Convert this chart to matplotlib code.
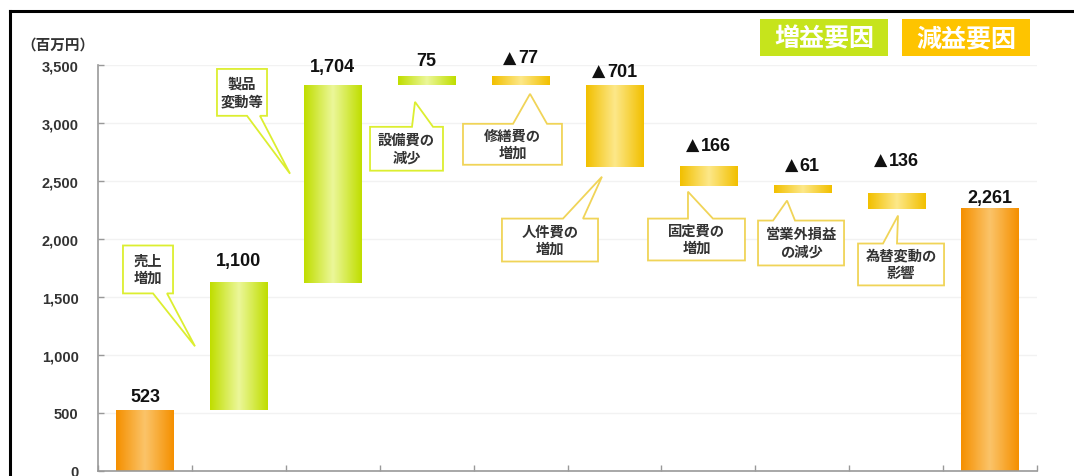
import matplotlib
matplotlib.use('Agg')
import matplotlib.pyplot as plt
import numpy as np
from matplotlib.colors import LinearSegmentedColormap
from matplotlib.patches import Polygon, Rectangle
from matplotlib.lines import Line2D

plt.rcParams['font.family'] = ['Liberation Sans', 'DejaVu Sans', 'Noto Sans CJK JP']
plt.rcParams['font.weight'] = 'bold'

# ---- data ----
categories = ['前期', '売上増加', '製品変動等', '設備費の減少', '修繕費の増加',
              '人件費の増加', '固定費の増加', '営業外損益の減少', '為替変動の影響', '当期']
values = [523, 1100, 1704, 75, -77, -701, -166, -61, -136, 2261]
kinds = ['total', 'inc', 'inc', 'inc', 'dec', 'dec', 'dec', 'dec', 'dec', 'total']
yticks = [0, 500, 1000, 1500, 2000, 2500, 3000, 3500]
ytick_labels = ['0', '500', '1,000', '1,500', '2,000', '2,500', '3,000', '3,500']
label_offsets = [6.5, 13, 10, 8.5, 10, 7, 12, 11.5, 20, 5]  # points above bar

callout_texts = ['売上\n増加', '製品\n変動等', '設備費の\n減少', '修繕費の\n増加',
                 '人件費の\n増加', '固定費の\n増加', '営業外損益\nの減少', '為替変動の\n影響']
callout_kinds = ['inc', 'inc', 'inc', 'dec', 'dec', 'dec', 'dec', 'dec']
# box (x0, x1, y0, y1), tail side, tail base (b0, b1), tip (x, y)  -- data coords
callout_geom = [
    ((-0.234, 0.299, 1531, 1944), 'bottom', (0.086, 0.235), (0.533, 1075)),
    ((0.767, 1.300, 3062, 3466), 'bottom', (1.087, 1.225), (1.545, 2563)),
    ((2.397, 3.174, 2589, 2967), 'top', (2.844, 3.068), (2.876, 3182)),
    ((3.387, 4.441, 2640, 2993), 'top', (3.920, 4.282), (4.101, 3251)),
    ((3.802, 4.825, 1806, 2176), 'top', (4.452, 4.665), (4.867, 2537)),
    ((5.357, 6.390, 1815, 2176), 'top', (5.783, 6.049), (5.783, 2408)),
    ((6.529, 7.445, 1772, 2159), 'top', (6.689, 6.923), (6.838, 2331)),
    ((7.594, 8.510, 1600, 1961), 'top', (7.860, 8.009), (8.020, 2202)),
]

# ---- styles ----
edge_col = {'inc': '#c0de00', 'dec': '#f2c000', 'total': '#f59000'}
mid_col = {'inc': '#ecf79a', 'dec': '#fde88a', 'total': '#fbc46a'}
box_edge = {'inc': '#dcee30', 'dec': '#f0d458'}

fig = plt.figure(figsize=(10.74, 4.77), dpi=100)
ax = fig.add_axes([98 / 1074, 5 / 477, 939 / 1074, 406 / 477])
renderer = fig.canvas.get_renderer()
px2pt = 72 / fig.dpi

bar_w = 0.61
running = 0
grad = np.linspace(0, 1, 64).reshape(1, -1)
for i, (v, k) in enumerate(zip(values, kinds)):
    if k == 'total':
        bottom, top = 0, v
        running = v
    else:
        start = running
        running = running + v
        bottom, top = min(start, running), max(start, running)
    cmap = LinearSegmentedColormap.from_list(
        k, [edge_col[k], mid_col[k], edge_col[k]])
    ax.imshow(grad, extent=[i - bar_w / 2, i + bar_w / 2, bottom, top],
              cmap=cmap, aspect='auto', zorder=2, interpolation='bilinear')
    off = label_offsets[i]
    num = f'{abs(v):,}'
    t_num = ax.annotate(num, (i, top), xytext=(0, off), textcoords='offset points',
                        ha='left', va='baseline', fontsize=13, fontweight='bold',
                        color='#111111', zorder=5, family='Liberation Sans')
    w_num = t_num.get_window_extent(renderer).width * px2pt
    if v < 0:
        t_tri = ax.annotate('▲', (i, top), xytext=(0, off), textcoords='offset points',
                            ha='left', va='baseline', fontsize=12.5, fontweight='bold',
                            color='#111111', zorder=5, family='DejaVu Sans')
        w_tri = t_tri.get_window_extent(renderer).width * px2pt
        gap = 1.0
        total = w_tri + gap + w_num
        t_tri.xyann = (-total / 2, off)
        t_num.xyann = (-total / 2 + w_tri + gap, off)
    else:
        t_num.xyann = (-w_num / 2, off)

# callouts
for txt, k, (box, side, base, tip) in zip(callout_texts, callout_kinds, callout_geom):
    x0, x1, y0, y1 = box
    b0, b1 = base
    if side == 'bottom':
        pts = [(x0, y1), (x1, y1), (x1, y0), (b1, y0), tip, (b0, y0), (x0, y0)]
    else:
        pts = [(x0, y0), (x0, y1), (b0, y1), tip, (b1, y1), (x1, y1), (x1, y0)]
    ax.add_patch(Polygon(pts, closed=True, facecolor='white', edgecolor=box_edge[k],
                         lw=1.3, zorder=3))
    ax.text((x0 + x1) / 2, (y0 + y1) / 2, txt, ha='center', va='center',
            fontsize=10.3, fontweight='bold', color='#333333', linespacing=1.3,
            zorder=4, family=['Noto Sans CJK JP', 'DejaVu Sans'])

ax.set_xlim(-0.5, len(values) - 0.5)
ax.set_ylim(0, 3500)
ax.set_yticks(yticks)
ax.set_yticklabels(ytick_labels, fontsize=10.5, fontweight='bold', color='#333333')
ax.tick_params(axis='y', direction='in', length=4, width=1, color='#999999', pad=14)
ax.set_xticks(np.arange(-0.5, len(values), 1.0))
ax.set_xticklabels([])
ax.tick_params(axis='x', direction='in', length=4, width=1, color='#999999')
for s in ['top', 'right']:
    ax.spines[s].set_visible(False)
for s in ['left', 'bottom']:
    ax.spines[s].set_color('#999999')
    ax.spines[s].set_linewidth(1.2)
ax.grid(axis='y', color='#f2f2f2', lw=1, zorder=0)
ax.set_axisbelow(True)

# unit label
fig.text(58 / 1074, 1 - 45 / 477, '（百万円）', ha='center', va='center', fontsize=10.5,
         fontweight='bold', color='#333333', family=['Noto Sans CJK JP', 'DejaVu Sans'])

# legend boxes
for (px0, px1), col, txt in [((760, 888), '#c6e41c', '増益要因'), ((902, 1030), '#fec400', '減益要因')]:
    fig.patches.append(Rectangle((px0 / 1074, 1 - 57 / 477), (px1 - px0) / 1074, 37 / 477,
                                 transform=fig.transFigure, facecolor=col, edgecolor='none'))
    fig.text((px0 + px1) / 2 / 1074, 1 - 39 / 477, txt, ha='center', va='center', fontsize=18,
             fontweight='bold', color='white', family=['Noto Sans CJK JP', 'DejaVu Sans'])

# frame
fig.add_artist(Line2D([10 / 1074, 1], [1 - 12 / 477, 1 - 12 / 477], transform=fig.transFigure,
                      color='black', lw=2.2))
fig.add_artist(Line2D([10 / 1074, 10 / 1074], [0, 1 - 12 / 477], transform=fig.transFigure,
                      color='black', lw=2.2))

fig.savefig('out.png', dpi=100)
